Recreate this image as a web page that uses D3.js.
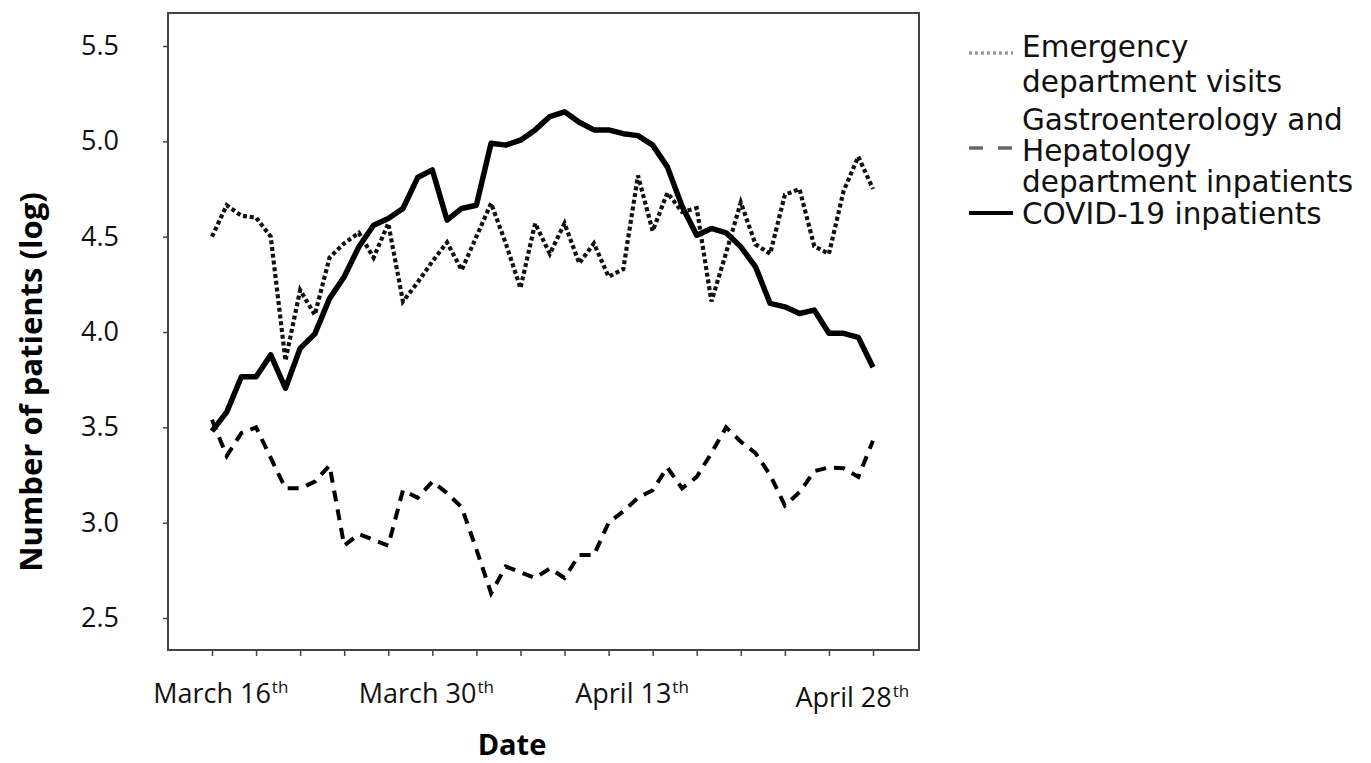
<!DOCTYPE html>
<html>
<head>
<meta charset="utf-8">
<script src="https://cdn.jsdelivr.net/npm/d3@7"></script>
<style>
  body { margin: 0; background: #fff; }
  svg { display: block; }
</style>
</head>
<body>
<div id="chart"></div>
<script>
// daily values, March 16th -> April 30th (log of patient counts)
var startDay = new Date(2020, 2, 16);
var edVisits = [4.50, 4.665, 4.61, 4.60, 4.50, 3.85, 4.22, 4.09, 4.39, 4.465,
  4.52, 4.39, 4.57, 4.16, 4.26, 4.37, 4.47, 4.325, 4.50, 4.675,
  4.465, 4.23, 4.57, 4.41, 4.57, 4.36, 4.465, 4.29, 4.33, 4.82,
  4.53, 4.73, 4.63, 4.65, 4.16, 4.415, 4.68, 4.46, 4.41, 4.72,
  4.75, 4.45, 4.41, 4.74, 4.92, 4.75];
var giInpatients = [3.54, 3.35, 3.47, 3.50, 3.34, 3.18, 3.18, 3.215, 3.30, 2.88,
  2.94, 2.91, 2.88, 3.17, 3.13, 3.215, 3.155, 3.08, 2.86, 2.63,
  2.77, 2.74, 2.71, 2.76, 2.71, 2.83, 2.83, 3.00, 3.06, 3.13,
  3.17, 3.29, 3.18, 3.24, 3.365, 3.50, 3.425, 3.365, 3.25, 3.09,
  3.16, 3.27, 3.29, 3.285, 3.24, 3.43];
var covidInpatients = [3.48, 3.58, 3.765, 3.765, 3.88, 3.705, 3.914, 3.99, 4.175, 4.29,
  4.447, 4.56, 4.595, 4.648, 4.81, 4.85, 4.587, 4.648, 4.665, 4.99,
  4.98, 5.006, 5.06, 5.13, 5.155, 5.10, 5.06, 5.06, 5.04, 5.03,
  4.98, 4.866, 4.66, 4.508, 4.543, 4.52, 4.447, 4.342, 4.15, 4.132,
  4.097, 4.115, 3.993, 3.993, 3.972, 3.815];
var yTicks = [2.5, 3.0, 3.5, 4.0, 4.5, 5.0, 5.5];
var dateLabels = [
  {day: 0, text: "March 16", sup: "th"},
  {day: 14, text: "March 30", sup: "th"},
  {day: 28, text: "April 13", sup: "th"},
  {day: 43, text: "April 28", sup: "th"}
];
var legendItems = [
  {lines: ["Emergency", "department visits"]},
  {lines: ["Gastroenterology and", "Hepatology", "department inpatients"]},
  {lines: ["COVID-19 inpatients"]}
];

var width = 1371, height = 763;
var frame = {left: 168, right: 919, top: 13, bottom: 650};

var svg = d3.select("#chart").append("svg")
  .attr("width", width)
  .attr("height", height);

var dayOf = i => d3.timeDay.offset(startDay, i);

var x = d3.scaleTime()
  .domain([startDay, dayOf(edVisits.length - 1)])
  .range([212, 873]);
var y = d3.scaleLinear()
  .domain([2.5, 5.5])
  .range([618, 46]);

// frame
svg.append("rect")
  .attr("x", frame.left).attr("y", frame.top)
  .attr("width", frame.right - frame.left)
  .attr("height", frame.bottom - frame.top)
  .attr("fill", "none")
  .attr("stroke", "#444")
  .attr("stroke-width", 2);

// y axis
var yAxis = svg.append("g")
  .attr("transform", `translate(${frame.left},0)`)
  .call(d3.axisLeft(y).tickValues(yTicks).tickSize(5).tickPadding(44)
    .tickFormat(d3.format(".1f")));
yAxis.select(".domain").remove();
yAxis.selectAll(".tick line").attr("stroke", "#444").attr("stroke-width", 1.5);
yAxis.selectAll(".tick text")
  .attr("fill", "#111")
  .style("font", "27px 'Open Sans'");

// x axis, tick every 3 days
var xAxis = svg.append("g")
  .attr("transform", `translate(0,${frame.bottom})`)
  .call(d3.axisBottom(x).tickValues(d3.range(0, edVisits.length, 3).map(dayOf))
    .tickSize(6).tickFormat(""));
xAxis.select(".domain").remove();
xAxis.selectAll(".tick line").attr("stroke", "#444").attr("stroke-width", 1.5);

// date labels with superscripts
dateLabels.forEach(function (d) {
  var cx = x(dayOf(d.day));
  var by = d.day == 43 ? 707 : 703;
  var t = svg.append("text")
    .attr("x", cx).attr("y", by)
    .attr("text-anchor", "middle")
    .attr("fill", "#111")
    .style("font", "27px 'Open Sans'")
    .text(d.text);
  var w = t.node().getComputedTextLength();
  svg.append("text")
    .attr("x", cx + w / 2 + 1).attr("y", by - 10)
    .attr("fill", "#111")
    .style("font", "17px 'Open Sans'")
    .text(d.sup);
});

// axis titles
svg.append("text")
  .attr("transform", "translate(42,382) rotate(-90)")
  .attr("text-anchor", "middle")
  .style("font", "bold 31px 'Open Sans'")
  .text("Number of patients (log)");
svg.append("text")
  .attr("x", 512).attr("y", 755)
  .attr("text-anchor", "middle")
  .style("font", "bold 29px 'Open Sans'")
  .text("Date");

// lines
var line = d3.line()
  .x((d, i) => x(dayOf(i)))
  .y(d => y(d));

svg.append("path")
  .datum(giInpatients)
  .attr("d", line)
  .attr("fill", "none")
  .attr("stroke", "#000")
  .attr("stroke-width", 4)
  .attr("stroke-dasharray", "11,8");

svg.append("path")
  .datum(edVisits)
  .attr("d", line)
  .attr("fill", "none")
  .attr("stroke", "#111")
  .attr("stroke-width", 4.2)
  .attr("stroke-dasharray", "4,2.8");

svg.append("path")
  .datum(covidInpatients)
  .attr("d", line)
  .attr("fill", "none")
  .attr("stroke", "#000")
  .attr("stroke-width", 5.5)
  .attr("stroke-linejoin", "round");

// legend
var legend = svg.append("g").attr("class", "legend");
var baselines = [[57, 92], [130, 161, 192], [224]];
var symbolY = [53, 148, 213];
var symbolStyle = [
  {stroke: "#999", width: 3.5, dash: "3,3"},
  {stroke: "#5e6b68", width: 3.5, dash: "14,15"},
  {stroke: "#000", width: 4, dash: null}
];

legendItems.forEach(function (item, k) {
  legend.append("line")
    .attr("x1", 969).attr("x2", 1013)
    .attr("y1", symbolY[k]).attr("y2", symbolY[k])
    .attr("stroke", symbolStyle[k].stroke)
    .attr("stroke-width", symbolStyle[k].width)
    .attr("stroke-dasharray", symbolStyle[k].dash);
  item.lines.forEach(function (txt, j) {
    legend.append("text")
      .attr("x", 1022).attr("y", baselines[k][j])
      .attr("fill", "#111")
      .style("font", "29.5px 'DejaVu Sans'")
      .text(txt);
  });
});
</script>
</body>
</html>
